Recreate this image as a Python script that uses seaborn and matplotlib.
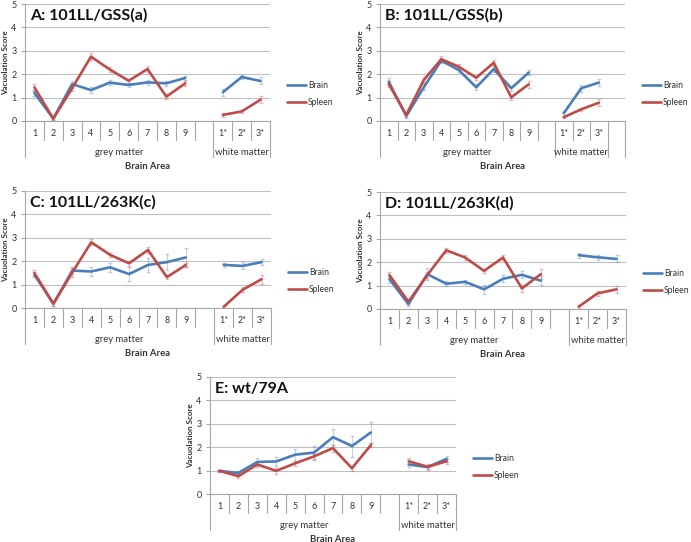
import pandas as pd
import seaborn as sns
import matplotlib.pyplot as plt
import matplotlib.transforms as mtransforms

# categories: 9 grey matter areas + 3 white matter areas
areas = ['1', '2', '3', '4', '5', '6', '7', '8', '9', '1*', '2*', '3*']
area_group = ['grey'] * 9 + ['white'] * 3
slot_pos = [0, 1, 2, 3, 4, 5, 6, 7, 8, 10, 11, 12]

# A: 101LL/GSS(a)
a_brain = [1.2, 0.1, 1.58, 1.32, 1.64, 1.54, 1.65, 1.61, 1.84, 1.23, 1.88, 1.71]
a_spleen = [1.44, 0.1, 1.4, 2.75, 2.2, 1.72, 2.22, 1.04, 1.61, 0.26, 0.41, 0.91]
a_brain_err = [0.12, 0.05, 0.15, 0.13, 0.12, 0.1, 0.1, 0.12, 0.1, 0.15, 0.08, 0.15]
a_spleen_err = [0.15, 0.05, 0.1, 0.15, 0.1, 0.08, 0.12, 0.1, 0.1, 0.08, 0.06, 0.15]

# B: 101LL/GSS(b)
b_brain = [1.68, 0.21, 1.44, 2.58, 2.18, 1.44, 2.22, 1.4, 2.07, 0.33, 1.4, 1.64]
b_spleen = [1.58, 0.26, 1.75, 2.64, 2.32, 1.85, 2.49, 1.01, 1.57, 0.16, 0.5, 0.78]
b_brain_err = [0.15, 0.08, 0.12, 0.12, 0.1, 0.12, 0.12, 0.1, 0.1, 0.1, 0.15, 0.15]
b_spleen_err = [0.12, 0.08, 0.12, 0.12, 0.1, 0.08, 0.12, 0.12, 0.15, 0.05, 0.06, 0.15]

# C: 101LL/263K(c)
c_brain = [1.42, 0.18, 1.6, 1.56, 1.74, 1.45, 1.84, 1.96, 2.16, 1.84, 1.8, 1.96]
c_spleen = [1.49, 0.18, 1.52, 2.81, 2.27, 1.91, 2.48, 1.32, 1.84, 0.05, 0.78, 1.23]
c_brain_err = [0.1, 0.08, 0.15, 0.2, 0.2, 0.3, 0.3, 0.35, 0.4, 0.1, 0.15, 0.12]
c_spleen_err = [0.12, 0.08, 0.2, 0.12, 0.1, 0.1, 0.12, 0.1, 0.1, 0.05, 0.1, 0.2]

# D: 101LL/263K(d)
d_brain = [1.28, 0.21, 1.49, 1.08, 1.16, 0.84, 1.29, 1.46, 1.21, 2.3, 2.21, 2.14]
d_spleen = [1.45, 0.31, 1.45, 2.51, 2.2, 1.63, 2.2, 0.88, 1.49, 0.1, 0.67, 0.84]
d_brain_err = [0.15, 0.1, 0.25, 0.1, 0.1, 0.2, 0.15, 0.15, 0.2, 0.1, 0.1, 0.15]
d_spleen_err = [0.12, 0.1, 0.12, 0.1, 0.1, 0.1, 0.1, 0.15, 0.2, 0.05, 0.1, 0.15]

# E: wt/79A
e_brain = [0.99, 0.9, 1.37, 1.39, 1.68, 1.77, 2.43, 2.05, 2.63, 1.26, 1.15, 1.5]
e_spleen = [0.99, 0.76, 1.26, 0.99, 1.31, 1.61, 1.96, 1.1, 2.09, 1.4, 1.16, 1.4]
e_brain_err = [0.05, 0.1, 0.15, 0.2, 0.25, 0.3, 0.35, 0.45, 0.45, 0.1, 0.1, 0.12]
e_spleen_err = [0.05, 0.08, 0.1, 0.12, 0.12, 0.12, 0.15, 0.1, 0.1, 0.12, 0.12, 0.1]

BLUE = '#4A7EBB'
RED = '#BE4B48'

sns.set_theme(style='white')
plt.rcParams['font.family'] = ['Lato', 'DejaVu Sans']

W, H = 691, 542
fig = plt.figure(figsize=(W / 100, H / 100), dpi=100)


def draw_panel(box, title, brain, spleen, brain_err, spleen_err, n_slots):
    x0, y0, x1, y1 = box
    ax = fig.add_axes([x0 / W, 1 - y1 / H, (x1 - x0) / W, (y1 - y0) / H])

    df = pd.DataFrame({
        'pos': slot_pos * 2,
        'score': brain + spleen,
        'tissue': ['Brain'] * 12 + ['Spleen'] * 12,
        'group': area_group * 2,
    })
    df['unit'] = df['tissue'] + df['group']

    ax.errorbar(slot_pos, brain, yerr=brain_err, fmt='none', ecolor=BLUE,
                alpha=0.35, elinewidth=0.8, capsize=1.6, zorder=2)
    ax.errorbar(slot_pos, spleen, yerr=spleen_err, fmt='none', ecolor=RED,
                alpha=0.35, elinewidth=0.8, capsize=1.6, zorder=2)
    sns.lineplot(data=df, x='pos', y='score', hue='tissue', units='unit',
                 estimator=None, palette={'Brain': BLUE, 'Spleen': RED},
                 lw=1.9, ax=ax, zorder=3)

    handles, labels = ax.get_legend_handles_labels()
    ax.legend(handles, labels, loc='center left', frameon=False,
              bbox_to_anchor=(1 + 17 / (x1 - x0), 0.23), borderaxespad=0,
              borderpad=0, handlelength=2.2, handletextpad=0.25,
              labelspacing=0.95, fontsize=6.2, labelcolor='#333333')

    ax.set_xlim(-0.5, n_slots - 0.5)
    ax.set_ylim(0, 5)
    ax.set_yticks(range(6))
    ax.yaxis.grid(True, color='#BFBFBF', lw=0.8)
    ax.set_axisbelow(True)
    for s in ['top', 'right']:
        ax.spines[s].set_visible(False)
    ax.spines['left'].set_color('#A6A6A6')
    ax.spines['bottom'].set_color('#A6A6A6')
    ax.spines['left'].set_linewidth(0.8)
    ax.spines['bottom'].set_linewidth(0.8)
    ax.tick_params(axis='y', left=True, length=3, width=0.8, color='#A6A6A6',
                   pad=3, labelsize=6.5, labelcolor='#333333')
    ax.set_xticks(slot_pos)
    ax.set_xticklabels(areas)
    ax.tick_params(axis='x', length=0, pad=6, labelsize=6.5,
                   labelcolor='#333333')
    ax.set_xlabel('')
    ax.set_ylabel('Vacuolation Score', fontsize=5.8, fontweight='bold',
                  color='#333333', labelpad=1.5)

    # category boxes below the axis
    trans = mtransforms.blended_transform_factory(ax.transData, ax.transAxes)
    group_edges = [-0.5, 9.5, 12.5] + ([13.5] if n_slots > 13 else [])
    for k in range(n_slots + 1):
        edge = k - 0.5
        low = -0.308 if edge in group_edges else -0.162
        ax.plot([edge, edge], [0, low], color='#A6A6A6', lw=0.8,
                transform=trans, clip_on=False)
    ax.text(4.5, -0.265, 'grey matter', transform=trans, ha='center',
            va='center', fontsize=6.8, color='#333333')
    ax.text(11, -0.265, 'white matter', transform=trans, ha='center',
            va='center', fontsize=6.8, color='#333333')
    ax.text((n_slots - 1) / 2 if n_slots == 13 else 6.5, -0.385, 'Brain Area',
            transform=trans, ha='center', va='center', fontsize=6.8,
            fontweight='bold', color='#333333')

    ax.text(0.02, 0.9, title, transform=ax.transAxes, ha='left', va='center',
            fontsize=11.5, fontweight='bold', color='#111111')
    return ax


draw_panel((25, 4, 270, 121), 'A: 101LL/GSS(a)', a_brain, a_spleen,
           a_brain_err, a_spleen_err, 13)
draw_panel((380, 4, 625, 121), 'B: 101LL/GSS(b)', b_brain, b_spleen,
           b_brain_err, b_spleen_err, 14)
draw_panel((25, 191, 271, 308), 'C: 101LL/263K(c)', c_brain, c_spleen,
           c_brain_err, c_spleen_err, 13)
draw_panel((380, 192, 626, 309), 'D: 101LL/263K(d)', d_brain, d_spleen,
           d_brain_err, d_spleen_err, 13)
draw_panel((210, 377, 456, 494), 'E: wt/79A', e_brain, e_spleen,
           e_brain_err, e_spleen_err, 13)

fig.savefig('out.png', dpi=100)
